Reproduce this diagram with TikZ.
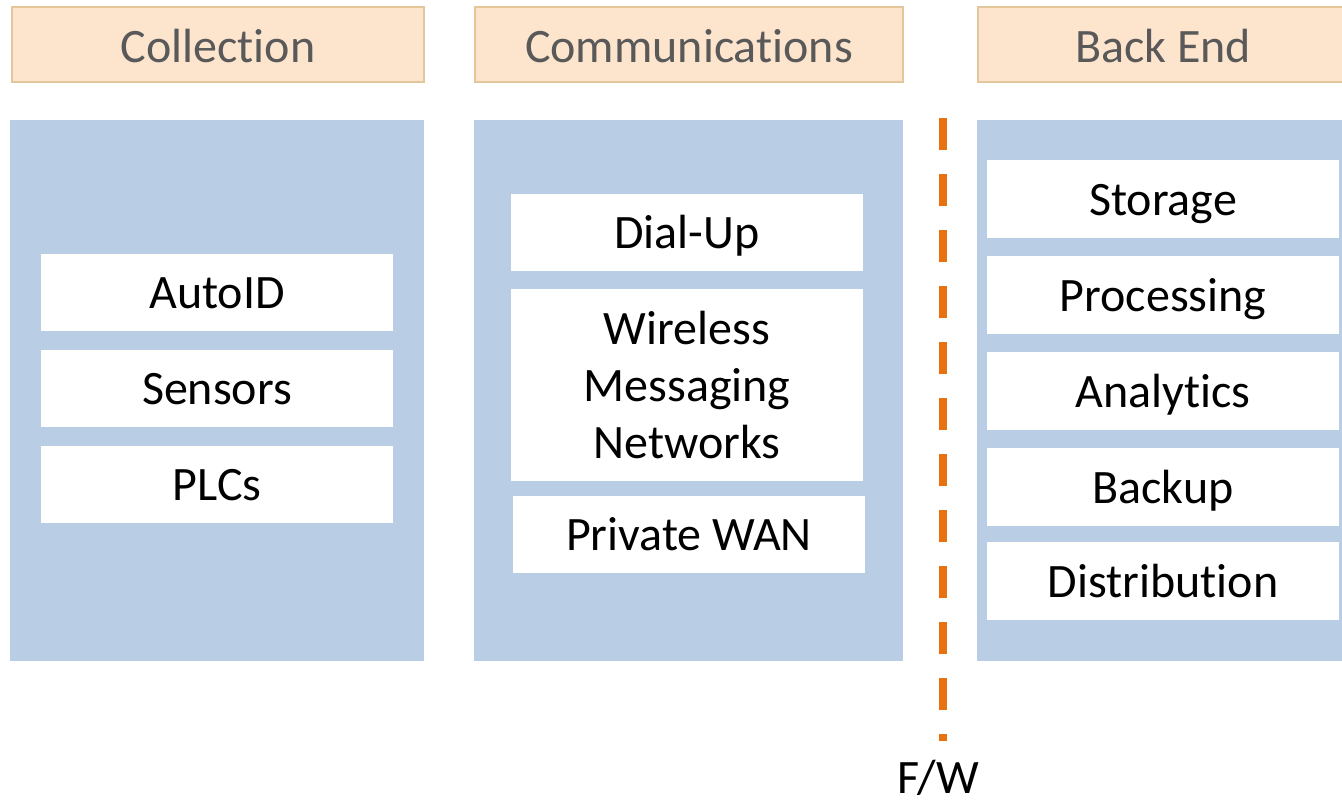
\documentclass[tikz,border=0pt]{standalone}
\usepackage{fontspec}
\setmainfont[Ligatures=NoCommon]{Carlito}
\definecolor{hdrfill}{HTML}{FDE4CD}
\definecolor{hdrline}{HTML}{E3C699}
\definecolor{hdrtext}{HTML}{595959}
\definecolor{panel}{HTML}{B9CDE4}
\definecolor{fwline}{HTML}{E8720F}
\begin{document}
\begin{tikzpicture}[x=1pt,y=-1pt,
  every node/.style={inner sep=0pt, outer sep=0pt, align=center,
    font=\fontsize{48}{57}\selectfont},
  hdr/.style={draw=hdrline, line width=2.5pt, fill=hdrfill, text=hdrtext,
    text height=40pt, text depth=5pt},
  pnl/.style={fill=panel},
  wbox/.style={fill=white, text=black},
  oneline/.style={text height=38pt, text depth=6pt},
  fw/.style={draw=fwline, line width=8pt, dash pattern=on 32pt off 24pt}]
\useasboundingbox (0,0) rectangle (1342,803);
% headers
\node[hdr, minimum width=412pt, minimum height=75pt] (hcol) at (218,44.5) {Collection};
\node[hdr, minimum width=428pt, minimum height=75pt] (hcom) at (689,44.5) {Communications};
\node[hdr, minimum width=370pt, minimum height=75pt] (hbe) at (1163,44.5) {Back End};
% panels
\node[pnl, minimum width=414pt, minimum height=541pt] (pcol) at (217,390.5) {};
\node[pnl, minimum width=429pt, minimum height=541pt] (pcom) at (688.5,390.5) {};
\node[pnl, minimum width=365pt, minimum height=541pt] (pbe) at (1159.5,390.5) {};
% collection boxes
\node[wbox, oneline, minimum width=352pt, minimum height=77pt] (autoid) at (217,292.5) {AutoID};
\node[wbox, oneline, minimum width=352pt, minimum height=77pt] (sensors) at (217,388.5) {Sensors};
\node[wbox, oneline, minimum width=352pt, minimum height=77pt] (plcs) at (217,484.5) {PLCs};
% communications boxes
\node[wbox, oneline, minimum width=352pt, minimum height=77pt] (dialup) at (687,232.5) {Dial-Up};
\node[wbox, minimum width=352pt, minimum height=192pt] (wmn) at (687,385) {Wireless\\Messaging\\Networks};
\node[wbox, oneline, minimum width=352pt, minimum height=77pt] (pwan) at (689,534.5) {Private WAN};
% back end boxes
\node[wbox, oneline, minimum width=352pt, minimum height=78pt] (storage) at (1163,199) {Storage};
\node[wbox, oneline, minimum width=352pt, minimum height=78pt] (processing) at (1163,295) {Processing};
\node[wbox, oneline, minimum width=352pt, minimum height=78pt] (analytics) at (1163,391) {Analytics};
\node[wbox, oneline, minimum width=352pt, minimum height=78pt] (backup) at (1163,487) {Backup};
\node[wbox, oneline, minimum width=352pt, minimum height=78pt] (distribution) at (1163,581) {Distribution};
% firewall line
\coordinate (fwtop) at (943,118);
\coordinate (fwbot) at (943,741);
\draw[fw] (fwtop) -- (fwbot);
\node[text=black, anchor=base] (fwlabel) at (938,793) {F/W};
\end{tikzpicture}
\end{document}
